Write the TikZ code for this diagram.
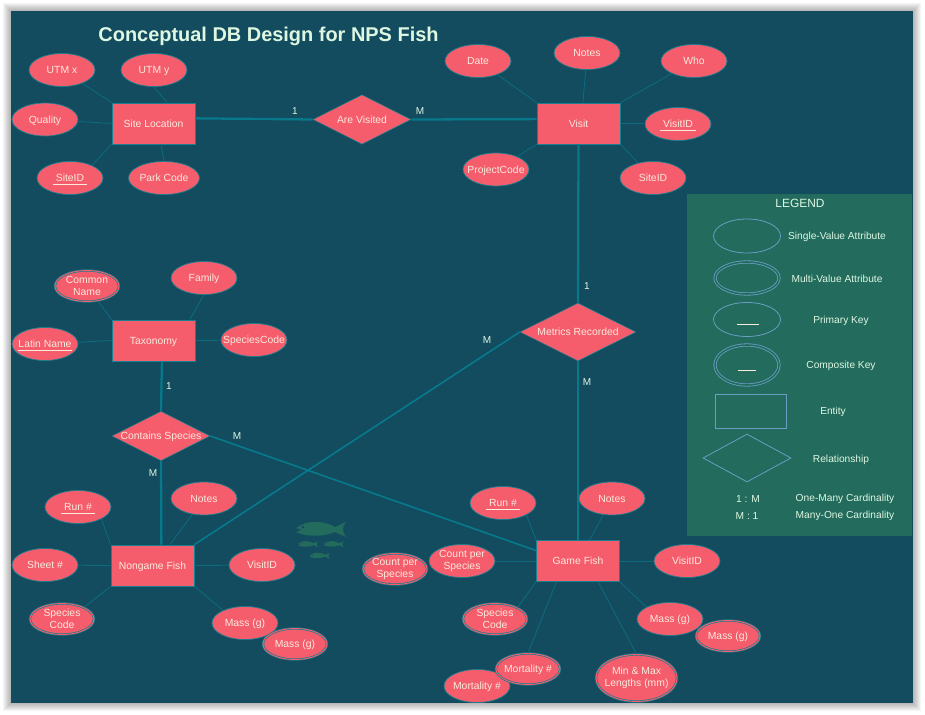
\documentclass[tikz,border=0pt]{standalone}
\usepackage{fontspec}
\setmainfont{Liberation Sans}
\usepackage{xcolor}
\usetikzlibrary{shapes.geometric}

\definecolor{pagebg}{HTML}{134B5F}
\definecolor{legendbg}{HTML}{236B5D}
\definecolor{rosefill}{HTML}{F55C6C}
\definecolor{tealline}{HTML}{0D6B7D}
\definecolor{tealedge}{HTML}{1A7F8E}
\definecolor{tealthick}{HTML}{08798B}
\definecolor{legendline}{HTML}{6A9FC4}
\definecolor{paletext}{HTML}{FBEBDD}
\definecolor{minttext}{HTML}{DDF7E2}

\tikzset{
	attr/.style={ellipse, draw=tealedge, fill=rosefill, line width=0.4pt, text=paletext, align=center,
		font=\fontsize{5.9}{7.1}\selectfont, text height=4.2pt, text depth=0pt,
		inner xsep=-5pt, inner ysep=0pt, minimum width=1.32cm, minimum height=0.66cm},
	multiattr/.style={attr, double=rosefill, double distance=0.5pt, minimum width=1.28cm, minimum height=0.62cm},
	twolines/.style={text height=, text depth=},
	entitybox/.style={rectangle, draw=tealedge, fill=rosefill, line width=0.5pt, text=paletext,
		font=\fontsize{5.9}{7.1}\selectfont, text height=4.2pt, text depth=0pt, minimum width=1.66cm, minimum height=0.82cm},
	relbox/.style={diamond, draw=tealedge, fill=rosefill, line width=0.3pt, text=paletext, aspect=2,
		font=\fontsize{5.9}{7.1}\selectfont, text height=4.2pt, text depth=0pt, inner sep=0pt, minimum width=1.96cm, minimum height=0.99cm},
	attrline/.style={draw=tealline, line width=0.5pt},
	relline/.style={draw=tealthick, line width=1.3pt},
	crossline/.style={draw=tealthick, line width=0.95pt},
	cardlabel/.style={text=minttext, font=\fontsize{5.7}{7}\selectfont, inner sep=0pt},
	legendtext/.style={text=minttext, font=\fontsize{5.8}{7}\selectfont, inner sep=0pt, yshift=-0.55pt},
	legendattr/.style={ellipse, draw=legendline, line width=0.45pt, inner sep=0pt, minimum width=1.34cm, minimum height=0.68cm},
	legendmulti/.style={legendattr, double=legendbg, double distance=0.9pt, minimum width=1.28cm, minimum height=0.64cm},
	blankrule/.style={text=paletext, inner sep=0pt},
	fish/.pic={
		\fill[legendbg] (-25,-1)..controls (-15,-9) and (3,-9)..(14,-2)--(25,-7)..controls (21,-2) and (21,2)..(25,8)
			--(14,3)..controls (3,8) and (-15,8)..(-25,3)--(-20,1)--cycle;
		\fill[pagebg] (-18,-2) circle (1.4);
	}
}

\begin{document}
\begin{tikzpicture}[x=0.02cm,y=-0.02cm]

	\useasboundingbox (0,0) rectangle (925,715);

	\foreach \s in {1,...,8}
		\fill[black, opacity=0.04] (11-\s,11-\s) rectangle (913+\s,703+\s);
	\fill[pagebg] (11,11) rectangle (913,703);

	\node[text=minttext, font=\fontsize{11.35}{14}\bfseries\selectfont, inner sep=0pt] (title) at (268.5,36.5) {Conceptual DB Design for NPS Fish};

	% entities and relationships
	\node[entitybox] (siteloc) at (153.5,123.5) {Site Location};
	\node[entitybox] (visit) at (578.5,123.5) {Visit};
	\node[entitybox] (taxonomy) at (153.5,340.5) {Taxonomy};
	\node[entitybox] (nongame) at (152.5,565.5) {Nongame Fish};
	\node[entitybox] (gamefish) at (578,561) {Game Fish};
	\node[relbox] (arevisited) at (362,119.5) {Are Visited};
	\node[relbox] (contains) at (161,436) {Contains Species};
	\node[relbox, minimum width=2.32cm, minimum height=1.16cm] (metrics) at (578,332) {Metrics Recorded};

	% site location
	\node[attr] (utmx) at (62,70) {UTM x};
	\node[attr] (utmy) at (154,70) {UTM y};
	\node[attr] (quality) at (45,119.5) {Quality};
	\node[attr] (siteid) at (70,178) {\underline{\ SiteID\ }};
	\node[attr, minimum width=1.42cm] (parkcode) at (164,178) {Park Code};
	\draw[attrline] (utmx) -- (siteloc.north west);
	\draw[attrline] (utmy.south) -- (siteloc.57);
	\draw[attrline] (quality) -- (siteloc.west);
	\draw[attrline] (siteid.30) -- (siteloc.south west);
	\draw[attrline] (parkcode.north) -- (siteloc.-70);

	% visit
	\node[attr] (date) at (478,61) {Date};
	\node[attr] (visitnotes) at (587,53) {Notes};
	\node[attr] (who) at (694,61) {Who};
	\node[attr] (visitid) at (678,124) {\underline{\ VisitID\ }};
	\node[attr] (visitsite) at (653,178) {SiteID};
	\node[attr] (project) at (496,169.5) {ProjectCode};
	\draw[attrline] (date) -- (visit.north west);
	\draw[attrline] (visitnotes) -- (visit.78);
	\draw[attrline] (who) -- (visit.north east);
	\draw[attrline] (visitid) -- (visit.east);
	\draw[attrline] (visitsite) -- (visit.south east);
	\draw[attrline] (project) -- (visit.south west);

	% taxonomy
	\node[multiattr, twolines] (common) at (87,286) {Common\\Name};
	\node[attr] (family) at (204,278) {Family};
	\node[attr] (latin) at (45,344) {\underline{Latin Name}};
	\node[attr] (speciescode) at (254,340) {SpeciesCode};
	\draw[attrline] (common) -- (taxonomy.north west);
	\draw[attrline] (family.south) -- (taxonomy.30);
	\draw[attrline] (latin) -- (taxonomy.west);
	\draw[attrline] (speciescode) -- (taxonomy.east);

	% nongame fish
	\node[attr] (ngrun) at (78,507) {\underline{\ Run \#\ }};
	\node[attr] (ngnotes) at (204,498.5) {Notes};
	\node[attr] (ngsheet) at (45,565) {Sheet \#};
	\node[attr] (ngvisit) at (262,565) {VisitID};
	\node[multiattr, twolines] (ngspecies) at (62,619) {Species\\Code};
	\node[attr] (ngmass) at (245,623) {Mass (g)};
	\node[multiattr] (ngmassb) at (295,644) {Mass (g)};
	\draw[attrline] (ngrun.-27) -- (nongame.north west);
	\draw[attrline] (ngnotes) -- (nongame.50);
	\draw[attrline] (ngsheet) -- (nongame.west);
	\draw[attrline] (ngvisit) -- (nongame.east);
	\draw[attrline] (ngspecies.28) -- (nongame.south west);
	\draw[attrline] (ngmass.150) -- (nongame.south east);

	% game fish
	\node[attr] (gfrun) at (503,503) {\underline{\ Run \#\ }};
	\node[attr] (gfnotes) at (612,498.5) {Notes};
	\node[attr] (gfvisit) at (687,561) {VisitID};
	\node[multiattr, twolines] (gfcountb) at (395,569) {Count per\\Species};
	\node[attr, twolines] (gfcount) at (462,561) {Count per\\Species};
	\node[multiattr, twolines] (gfspecies) at (495,619) {Species\\Code};
	\node[attr] (gfmass) at (670,619) {Mass (g)};
	\node[multiattr] (gfmassb) at (728,636) {Mass (g)};
	\node[attr] (gfmort) at (477,686) {Mortality \#};
	\node[multiattr] (gfmortb) at (528,669) {Mortality \#};
	\node[multiattr, twolines, minimum width=1.62cm, minimum height=0.94cm] (gfminmax) at (636.5,678) {Min \& Max\\Lengths (mm)};
	\draw[attrline] (gfrun.-27) -- (gamefish.north west);
	\draw[attrline] (gfnotes.-118) -- (gamefish.61);
	\draw[attrline] (gfvisit) -- (gamefish.east);
	\draw[attrline] (gfcount) -- (gamefish.west);
	\draw[attrline] (gfspecies.27) -- (gamefish.south west);
	\draw[attrline] (gfmass.153) -- (gamefish.south east);
	\draw[attrline] (gfmortb.north) -- (gamefish.-136);
	\draw[attrline] (gfminmax.north) -- (gamefish.-46);

	% relationships
	\draw[relline] (siteloc.7) -- (arevisited.west);
	\draw[relline] (arevisited.east) -- (visit.174);
	\draw[relline] (visit.south) -- (metrics.north);
	\draw[relline] (metrics.south) -- (gamefish.north);
	\draw[relline] (taxonomy.-68) -- (contains.north);
	\draw[relline] (contains.south) -- (nongame.67);
	\draw[crossline] (metrics.west) -- (nongame.north east);
	\draw[crossline] (contains.east) -- (gamefish.166);

	\node[cardlabel] (cardA) at (295,111) {1};
	\node[cardlabel] (cardB) at (420,111) {M};
	\node[cardlabel] (cardC) at (587,286) {1};
	\node[cardlabel] (cardD) at (487,340) {M};
	\node[cardlabel] (cardE) at (587,382) {M};
	\node[cardlabel] (cardF) at (169,386) {1};
	\node[cardlabel] (cardG) at (237,436) {M};
	\node[cardlabel] (cardH) at (153,473) {M};

	\pic at (321,529) {fish};
	\pic[scale=0.4] at (308,544) {fish};
	\pic[scale=0.4] at (333.5,544) {fish};
	\pic[scale=0.4] at (319.5,555.5) {fish};

	% legend
	\fill[legendbg] (687,194) rectangle (912,536);
	\node[text=minttext, font=\fontsize{6.8}{9}\selectfont, inner sep=0pt] (legendtitle) at (800,203) {LEGEND};
	\node[legendattr] (lgsingle) at (747,236) {};
	\node[legendmulti] (lgmulti) at (747,278) {};
	\node[legendattr] (lgprimary) at (747,319.5) {};
	\node[legendmulti, minimum height=0.8cm] (lgcomposite) at (747,365) {};
	\node[blankrule] (lgruleA) at (748,324) {\rule{0.44cm}{0.35pt}};
	\node[blankrule] (lgruleB) at (747,370) {\rule{0.35cm}{0.35pt}};
	\node[rectangle, draw=legendline, line width=0.5pt, minimum width=1.42cm, minimum height=0.68cm, inner sep=0pt] (lgentity) at (750.5,411) {};
	\node[diamond, draw=legendline, line width=0.45pt, aspect=2, minimum width=1.76cm, minimum height=0.96cm, inner sep=0pt] (lgrel) at (747,458) {};
	\node[legendtext] (txsingle) at (837,236) {Single-Value Attribute};
	\node[legendtext] (txmulti) at (837,278) {Multi-Value Attribute};
	\node[legendtext] (txprimary) at (841,319.5) {Primary Key};
	\node[legendtext] (txcomposite) at (841,365) {Composite Key};
	\node[legendtext] (txentity) at (833,411) {Entity};
	\node[legendtext] (txrel) at (841,458.5) {Relationship};
	\node[legendtext] (txonemany) at (748,498) {1 : M};
	\node[legendtext] (txmanyone) at (747,515) {M : 1};
	\node[legendtext] (txonemanyb) at (845,498) {One-Many Cardinality};
	\node[legendtext] (txmanyoneb) at (845,515) {Many-One Cardinality};

\end{tikzpicture}
\end{document}
